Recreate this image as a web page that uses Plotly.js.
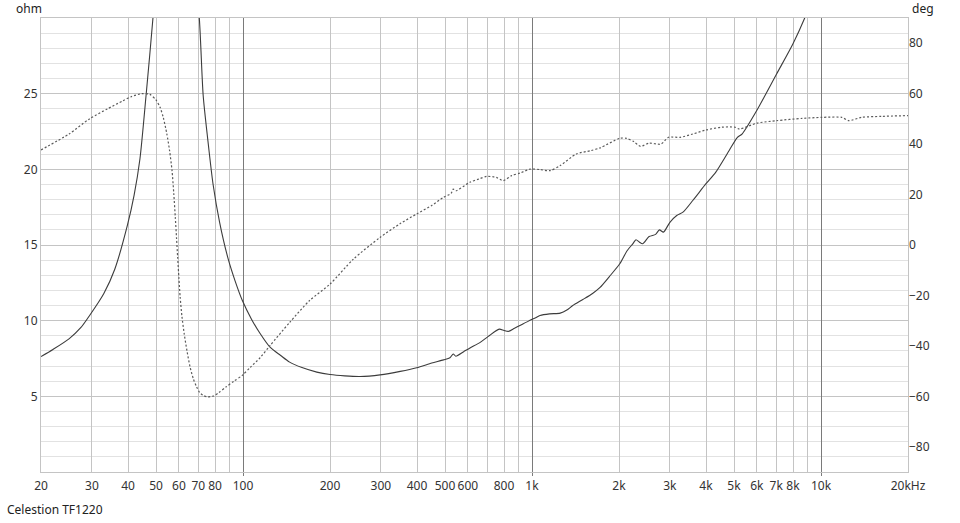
<!DOCTYPE html>
<html>
<head>
<meta charset="utf-8">
<script src="https://cdn.plot.ly/plotly-3.0.1.min.js"></script>
<style>html,body{margin:0;padding:0;background:#fff;}#chart{width:960px;height:523px;}</style>
</head>
<body>
<div id="chart"></div>
<script>
// Impedance magnitude (ohm) vs frequency (Hz)
var impFreq = [20,22,25,27.5,29.5,33,36,39.8,42,44,46.2,48.8,52,55,58.3,62,66,70.6,72.8,75.5,78.8,83,88.8,94,99.4,107,114.6,124,135,145,160,180,200,225,254,298,350,399,450,494,520,534,545,580,610,660,706,770,800,828,870,908,972,1030,1066,1150,1252,1320,1384,1500,1620,1720,1850,2012,2130,2232,2290,2350,2414,2542,2677,2760,2850,3000,3168,3330,3600,4000,4320,4812,5130,5340,6000,7020,8000,8760,10000,12000,20000];
var impOhm = [7.63,8.1,8.8,9.55,10.36,11.8,13.4,16.3,18.3,20.7,24.9,30.0,37,46,52,46,36,30.0,24.9,22.0,19.0,16.5,14.1,12.6,11.35,10.1,9.15,8.25,7.7,7.26,6.9,6.6,6.44,6.35,6.31,6.42,6.65,6.89,7.2,7.41,7.55,7.8,7.65,7.95,8.2,8.55,8.96,9.44,9.35,9.29,9.5,9.68,9.97,10.2,10.34,10.45,10.5,10.7,11.0,11.4,11.8,12.2,12.9,13.76,14.6,15.08,15.35,15.2,15.08,15.56,15.7,16.0,15.85,16.5,16.95,17.17,17.94,19.05,19.8,21.25,22.1,22.35,23.9,26.3,28.3,29.95,32.8,36.5,48];

// Impedance phase (deg) vs frequency (Hz)
var phaseFreq = [20,25,29.5,34,38.3,41,44.6,47.6,50,51.6,53,54.5,55.7,56.8,57.6,58.3,58.9,59.4,60.0,60.6,61.5,62.6,64,65.6,67.3,69.1,70.8,72.7,75.5,78.8,82.5,87.3,93,99.4,106,114.6,124,145,170,200,241,298,350,399,450,494,525,534,545,610,660,697,752,795,850,908,987,1066,1157,1252,1424,1596,1720,2012,2124,2250,2372,2542,2790,2970,3260,3600,4000,4540,5030,5220,6000,7020,8620,10060,11800,12470,13800,16200,20000];
var phaseDeg = [37.7,44,50.1,54,57.1,58.8,60.0,59.7,57.5,54.7,50.5,44.1,37.5,29.6,20.5,11.1,2.5,-4.8,-13,-20.6,-28.5,-35.2,-42,-48.4,-53,-56.3,-58.5,-59.6,-60.2,-59.9,-58.5,-56.3,-54,-51.7,-48.5,-44.7,-39.9,-30.7,-22,-15.5,-5.6,3.0,8.5,12.3,15.7,18.9,20.5,22.2,21.5,24.9,26.3,27.2,26.8,25.5,27.5,28.5,30.1,29.9,29.5,31.5,36.1,37.4,38.5,42.3,42.3,41,39.1,40.4,40.0,42.7,42.7,44.0,45.6,46.7,46.7,46.0,48.3,49.3,50.2,50.6,50.6,49.3,50.6,51.0,51.3];

// Axis ticks
var freqTickVals = [20,30,40,50,60,70,80,90,100,200,300,400,500,600,700,800,900,1000,2000,3000,4000,5000,6000,7000,8000,9000,10000,20000];
var freqTickText = ['20','30','40','50','60','70','80','','100','200','300','400','500','600','','800','','1k','2k','3k','4k','5k','6k','7k','8k','','10k','20kHz'];
var decadeTickVals = [100,1000,10000];
var ohmTickVals = [5,10,15,20,25];
var degTickVals = [-80,-60,-40,-20,0,20,40,60,80];

var FONT = 'Noto Sans, Open Sans, sans-serif';
var xr = [Math.log10(20), Math.log10(20000)];

var traces = [
  {x: impFreq, y: impOhm, type: 'scatter', mode: 'lines', xaxis: 'x', yaxis: 'y',
   line: {color: '#3c3c3c', width: 1.1, shape: 'spline', smoothing: 0.7}, hoverinfo: 'skip'},
  {x: phaseFreq, y: phaseDeg, type: 'scatter', mode: 'lines', xaxis: 'x2', yaxis: 'y2',
   line: {color: '#5a5a5a', width: 1.2, dash: '2px,2px', shape: 'spline', smoothing: 0.7}, hoverinfo: 'skip'}
];

var layout = {
  width: 960, height: 523,
  margin: {l: 41, r: 52, t: 18, b: 51, pad: 0},
  paper_bgcolor: '#ffffff', plot_bgcolor: '#ffffff',
  showlegend: false,
  font: {family: FONT, size: 12, color: '#333333'},
  xaxis: {
    type: 'log', range: xr, tickmode: 'array', tickvals: freqTickVals, ticktext: freqTickText,
    showgrid: true, gridcolor: '#c4c4c4', gridwidth: 1, zeroline: false,
    showline: true, mirror: true, linecolor: '#c4c4c4', linewidth: 1,
    ticks: '', ticklabelstandoff: 3, tickfont: {family: FONT, size: 12, color: '#333333'}, fixedrange: true
  },
  xaxis2: {
    type: 'log', range: xr, overlaying: 'x', anchor: 'y2', tickmode: 'array', tickvals: decadeTickVals,
    showticklabels: false, showgrid: true, gridcolor: '#7a7a7a', gridwidth: 1, zeroline: false,
    showline: false, ticks: 'outside', ticklen: 3, tickcolor: '#7a7a7a', fixedrange: true
  },
  yaxis: {
    range: [0, 30], tickmode: 'array', tickvals: ohmTickVals,
    showgrid: true, gridcolor: '#c4c4c4', gridwidth: 1, zeroline: false,
    minor: {dtick: 1, showgrid: true, gridcolor: '#e2e2e2', gridwidth: 1, ticks: ''},
    showline: true, mirror: true, linecolor: '#c4c4c4', linewidth: 1,
    ticks: '', tickfont: {family: FONT, size: 12, color: '#333333'}, fixedrange: true
  },
  yaxis2: {
    range: [-90, 90], overlaying: 'y', side: 'right', anchor: 'x2', tickmode: 'array', tickvals: degTickVals,
    showgrid: false, zeroline: false, showline: false, ticks: '',
    tickfont: {family: FONT, size: 12, color: '#333333'}, fixedrange: true
  },
  annotations: [
    {text: 'ohm', xref: 'paper', yref: 'paper', x: -0.031, y: 1.022, xanchor: 'left', yanchor: 'middle',
     showarrow: false, font: {family: FONT, size: 12, color: '#222222'}},
    {text: 'deg', xref: 'paper', yref: 'paper', x: 1.002, y: 1.022, xanchor: 'left', yanchor: 'middle',
     showarrow: false, font: {family: FONT, size: 12, color: '#222222'}},
    {text: 'Celestion TF1220', xref: 'paper', yref: 'paper', x: -0.0415, y: -0.0837, xanchor: 'left', yanchor: 'middle',
     showarrow: false, font: {family: FONT, size: 12, color: '#222222'}}
  ]
};

Plotly.newPlot('chart', traces, layout, {staticPlot: true, displayModeBar: false});
</script>
</body>
</html>
